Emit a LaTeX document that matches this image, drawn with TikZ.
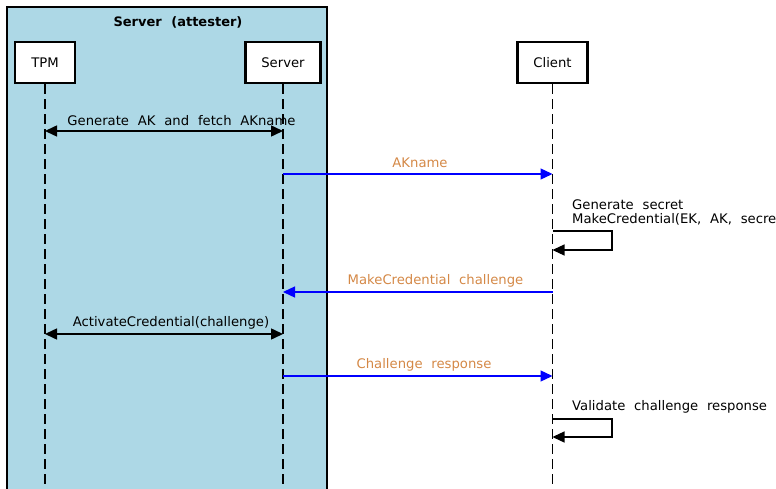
\documentclass[tikz,border=0pt]{standalone}
\usepackage{fontspec}
\setmainfont{DejaVu Sans}[WordSpace=2.1]
\usetikzlibrary{arrows.meta}
\definecolor{grpfill}{HTML}{ADD8E6}
\definecolor{msgorange}{RGB}{212,136,70}
\definecolor{msgblue}{RGB}{0,0,255}
\tikzset{
  actor/.style={draw=black, line width=2.2pt, fill=white, minimum width=#1, minimum height=41pt, inner sep=0pt},
  lifeline/.style={draw=black, line width=1.2pt, dash pattern=on 10pt off 5pt},
  syncmsg/.style={draw=black, line width=1.5pt, {Triangle[length=12pt,width=11pt]}-{Triangle[length=12pt,width=11pt]}},
  asyncmsg/.style={draw=msgblue, line width=1.3pt, -{Triangle[length=12pt,width=11pt]}, fill=msgblue},
  selfmsg/.style={draw=black, line width=1.3pt, -{Triangle[length=12pt,width=11pt]}},
  blacklabel/.style={text=black, inner sep=0pt},
  orangelabel/.style={text=msgorange, inner sep=0pt},
  notelabel/.style={text=black, inner sep=0pt, anchor=west, align=left},
}
\begin{document}
\begin{tikzpicture}[x=1pt, y=-1pt, font=\fontsize{13.2}{13.6}\selectfont]
\useasboundingbox (0,0) rectangle (776,489);
\clip (0,0) rectangle (776,489);

% group frame for the attesting server
\draw[fill=grpfill, line width=1.2pt] (7,7) rectangle (327,500);
\node[font=\fontsize{13}{15.5}\selectfont\bfseries, inner sep=0pt] (grp) at (178,22) {Server (attester)};

% participants
\node[actor=60pt] (tpm) at (45,62.5) {TPM};
\node[actor=75pt] (srv) at (283,62.5) {Server};
\node[actor=70pt] (cli) at (552.5,62.5) {Client};

% lifeline ends
\coordinate (tpmEnd) at (45,495);
\coordinate (srvEnd) at (283,495);
\coordinate (cliEnd) at (552.5,495);
\draw[lifeline] (tpm.south) -- (tpmEnd);
\draw[lifeline] (srv.south) -- (srvEnd);
\draw[lifeline] (cli.south) -- (cliEnd);

% message anchor points on the lifelines
\coordinate (t1) at (45,131);   \coordinate (s1) at (283,131);
\coordinate (s2) at (283,174);  \coordinate (c2) at (552.5,174);
\coordinate (c3a) at (552.5,231); \coordinate (c3b) at (612,231);
\coordinate (c3c) at (612,250);   \coordinate (c3d) at (552.5,250);
\coordinate (c4) at (552.5,292); \coordinate (s4) at (283,292);
\coordinate (t5) at (45,334);   \coordinate (s5) at (283,334);
\coordinate (s6) at (283,376);  \coordinate (c6) at (552.5,376);
\coordinate (c7a) at (552.5,419); \coordinate (c7b) at (612,419);
\coordinate (c7c) at (612,437);   \coordinate (c7d) at (552.5,437);

% messages
\draw[syncmsg] (t1) -- (s1);
\node[blacklabel] (m1) at (181.5,121) {Generate AK and fetch AKname};

\draw[asyncmsg] (s2) -- (c2);
\node[orangelabel] (m2) at (420,163) {AKname};

\node[notelabel] (m3) at (572,212.5) {Generate secret\\MakeCredential(EK, AK, secret)};
\draw[selfmsg] (c3a) -- (c3b) -- (c3c) -- (c3d);

\draw[asyncmsg] (c4) -- (s4);
\node[orangelabel] (m4) at (435.5,281) {MakeCredential challenge};

\draw[syncmsg] (t5) -- (s5);
\node[blacklabel] (m5) at (171,323) {ActivateCredential(challenge)};

\draw[asyncmsg] (s6) -- (c6);
\node[orangelabel] (m6) at (424,365) {Challenge response};

\node[notelabel] (m7) at (572,407) {Validate challenge response};
\draw[selfmsg] (c7a) -- (c7b) -- (c7c) -- (c7d);
\end{tikzpicture}
\end{document}
